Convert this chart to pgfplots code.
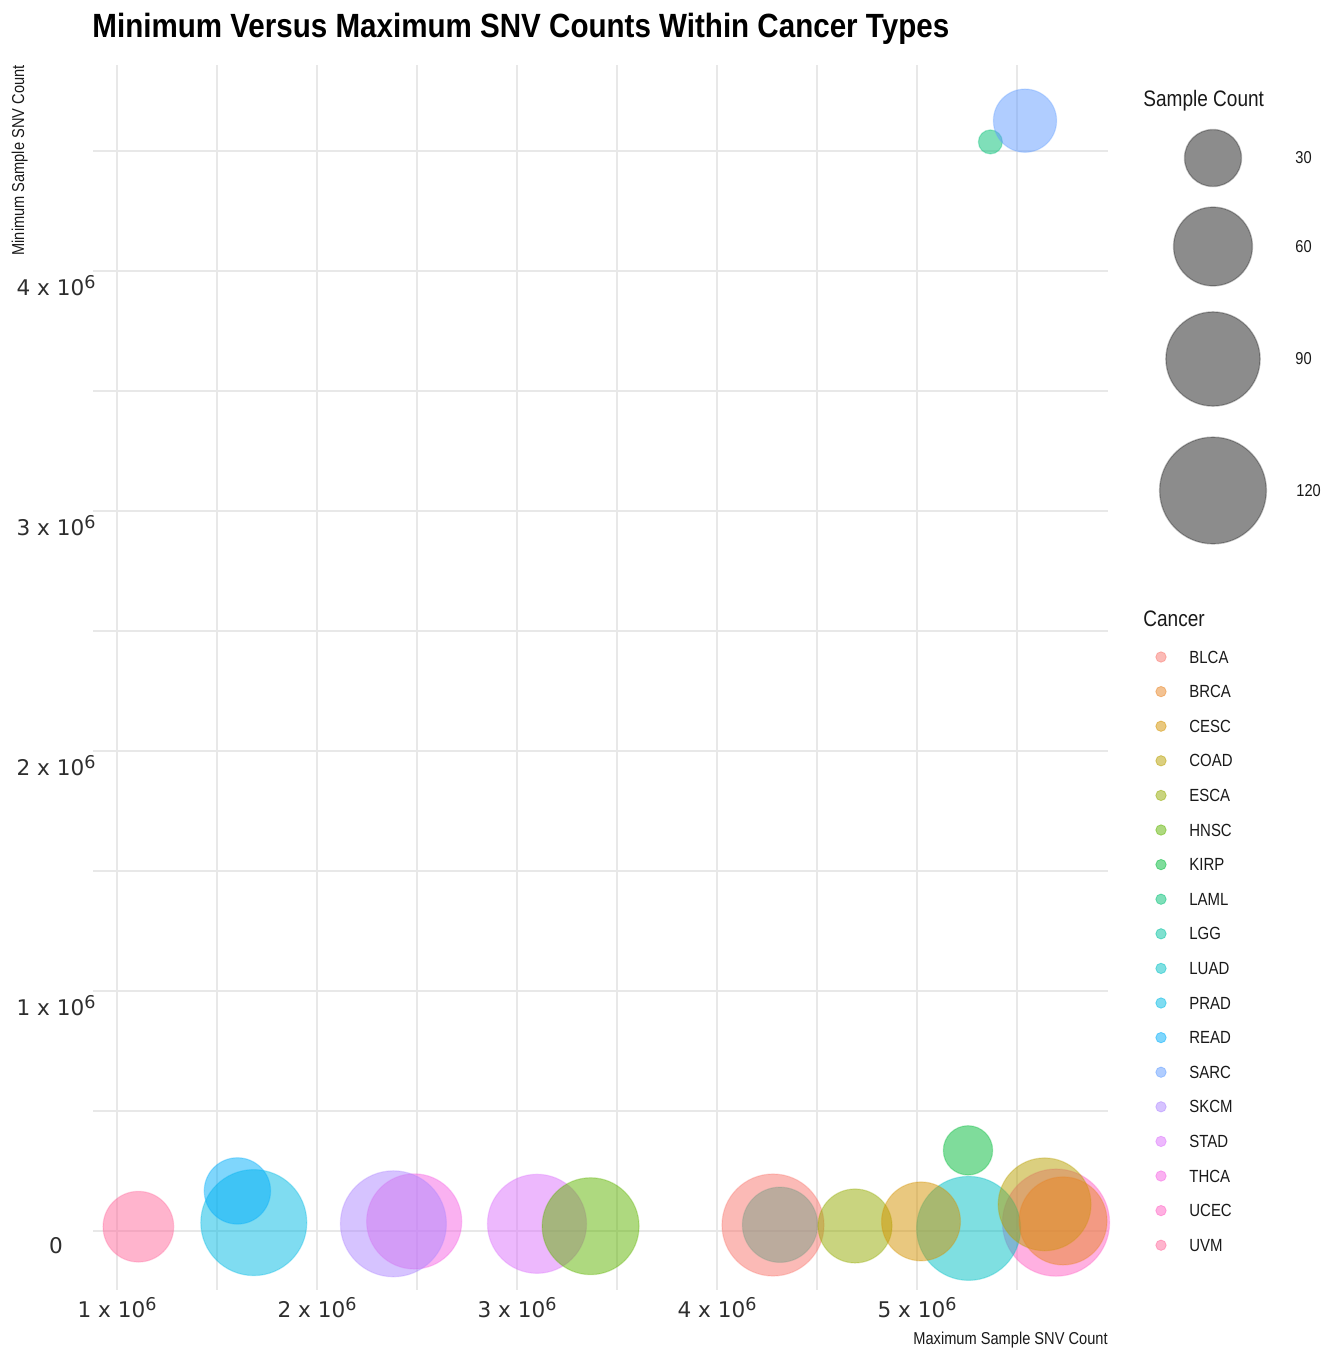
\documentclass[border=0pt]{standalone}
\usepackage{pgfplots}
\pgfplotsset{compat=1.18}
\usepackage{fontspec}
\setmainfont{Liberation Sans}
\newfontfamily\narrowf{Liberation Sans}[FakeStretch=0.85]
\newfontfamily\titlef{Liberation Sans}[FakeStretch=0.88]
\newfontfamily\dejavu{DejaVu Sans}

\definecolor{cBLCA}{HTML}{F8766D}
\definecolor{cBRCA}{HTML}{E88526}
\definecolor{cCESC}{HTML}{D39200}
\definecolor{cCOAD}{HTML}{B79F00}
\definecolor{cESCA}{HTML}{93AA00}
\definecolor{cHNSC}{HTML}{5EB300}
\definecolor{cKIRP}{HTML}{00BA38}
\definecolor{cLAML}{HTML}{00BF74}
\definecolor{cLGG}{HTML}{00C19F}
\definecolor{cLUAD}{HTML}{00BFC4}
\definecolor{cPRAD}{HTML}{00B9E3}
\definecolor{cREAD}{HTML}{00ADFA}
\definecolor{cSARC}{HTML}{619CFF}
\definecolor{cSKCM}{HTML}{AE87FF}
\definecolor{cSTAD}{HTML}{DB72FB}
\definecolor{cTHCA}{HTML}{F564E3}
\definecolor{cUCEC}{HTML}{FF61C3}
\definecolor{cUVM}{HTML}{FF699C}

\pgfplotsset{
  bub/.style={scatter, only marks, mark=*,
    scatter/use mapped color={draw=#1, fill=#1},
    mark options={fill opacity=0.5, draw opacity=0.3, line width=0.6pt},
    visualization depends on={6+2*sqrt(\thisrow{n}-13) \as \rad},
    scatter/@pre marker code/.append style={/tikz/mark size=\rad}},
  bubgray/.style={scatter, only marks, mark=*,
    scatter/use mapped color={draw=black, fill=black},
    mark options={fill opacity=0.45, draw opacity=0.25, line width=0.7pt},
    visualization depends on={6+2*sqrt(\thisrow{n}-13) \as \rad},
    scatter/@pre marker code/.append style={/tikz/mark size=\rad}},
}

\newcommand{\sx}[1]{\raisebox{0.6ex}{\fontsize{8.8}{9}\selectfont #1}}
\newcommand{\lgfont}{\fontsize{8.8}{10}\narrowf}
\newcommand{\lgitem}[3]{%
  \addplot[only marks, mark=*, mark size=2.6pt, mark options={fill=#3, draw=#3, fill opacity=0.5, draw opacity=0.5}] coordinates {(1161,#2)};
  \node[anchor=west, inner sep=0pt, font=\lgfont, text=black!90] at (axis cs:1189,#2) {#1};
}

\begin{document}
\begin{tikzpicture}
\path[use as bounding box] (0pt,0pt) rectangle (669pt,675.5pt);

\begin{axis}[
  at={(46.5pt,30.5pt)}, anchor=south west,
  scale only axis, width=507.5pt, height=612.5pt,
  xmin=880000, xmax=5955000, ymin=-245800, ymax=4858000,
  axis line style={draw=none},
  major tick length=0pt, minor tick length=0pt,
  xtick={1000000,2000000,3000000,4000000,5000000},
  minor xtick={1500000,2500000,3500000,4500000,5500000},
  ytick={0,1000000,2000000,3000000,4000000},
  minor ytick={500000,1500000,2500000,3500000,4500000},
  xticklabels={1 x 10\sx{6},2 x 10\sx{6},3 x 10\sx{6},4 x 10\sx{6},5 x 10\sx{6}},
  yticklabels={0,1 x 10\sx{6},2 x 10\sx{6},3 x 10\sx{6},4 x 10\sx{6}},
  scaled ticks=false,
  grid=both,
  major grid style={black!9, line width=0.7pt},
  minor grid style={black!9, line width=0.6pt},
  ticklabel style={font=\fontsize{10.8}{12}\dejavu, text=black!82},
  xticklabel style={anchor=center, yshift=-9pt},
  yticklabel style={anchor=center, xshift=-18.5pt, yshift=-7.5pt},
  point meta min=0, point meta max=200,
  clip=false,
]
\addplot[bub=cTHCA] table[row sep=\\]{x y n\\ 2486000 40000 92\\};
\addplot[bub=cSKCM] table[row sep=\\]{x y n\\ 2382000 30000 118\\};
\addplot[bub=cUVM]  table[row sep=\\]{x y n\\ 1107000 18000 47\\};
\addplot[bub=cPRAD] table[row sep=\\]{x y n\\ 1684000 35000 118\\};
\addplot[bub=cREAD] table[row sep=\\]{x y n\\ 1602000 167000 41\\};
\addplot[bub=cSTAD] table[row sep=\\]{x y n\\ 3100000 30000 101\\};
\addplot[bub=cHNSC] table[row sep=\\]{x y n\\ 3368000 20000 96\\};
\addplot[bub=cLGG]  table[row sep=\\]{x y n\\ 4315000 26000 54\\};
\addplot[bub=cBLCA] table[row sep=\\]{x y n\\ 4280000 25000 108\\};
\addplot[bub=cESCA] table[row sep=\\]{x y n\\ 4690000 21000 52\\};
\addplot[bub=cUCEC] table[row sep=\\]{x y n\\ 5695000 35000 121\\};
\addplot[bub=cLUAD] table[row sep=\\]{x y n\\ 5258000 11000 113\\};
\addplot[bub=cCESC] table[row sep=\\]{x y n\\ 5020000 40000 60\\};
\addplot[bub=cCOAD] table[row sep=\\]{x y n\\ 5638000 111000 87\\};
\addplot[bub=cBRCA] table[row sep=\\]{x y n\\ 5730000 42000 77\\};
\addplot[bub=cKIRP] table[row sep=\\]{x y n\\ 5255000 336000 23\\};
\addplot[bub=cLAML] table[row sep=\\]{x y n\\ 5367000 4537500 13\\};
\addplot[bub=cSARC] table[row sep=\\]{x y n\\ 5540000 4626000 37\\};
\end{axis}

% overlay axis in picture pixel coordinates for titles and legends
\begin{axis}[
  at={(0pt,0pt)}, anchor=south west,
  scale only axis, width=669pt, height=675.5pt,
  xmin=0, xmax=1338, ymin=0, ymax=1351, y dir=reverse,
  hide axis, clip=false,
  point meta min=0, point meta max=200,
]
\node[anchor=base west, inner sep=0pt, font=\fontsize{16.8}{18}\titlef\bfseries] at (axis cs:92,37) {Minimum Versus Maximum SNV Counts Within Cancer Types};
\node[anchor=base east, inner sep=0pt, rotate=90, font=\fontsize{8.6}{10}\narrowf, text=black!90] at (axis cs:24,65) {Minimum Sample SNV Count};
\node[anchor=base east, inner sep=0pt, font=\fontsize{8.6}{10}\narrowf, text=black!90] at (axis cs:1108,1344) {Maximum Sample SNV Count};

\node[anchor=base west, inner sep=0pt, font=\fontsize{11.2}{13}\narrowf, text=black!90] at (axis cs:1143,106) {Sample Count};
\addplot[bubgray] table[row sep=\\]{x y n\\ 1213 158 30\\ 1213 246.5 60\\ 1213 359 90\\ 1213 490.5 120\\};
\node[anchor=west, inner sep=0pt, font=\fontsize{8.6}{10}\narrowf, text=black!90] at (axis cs:1295,158) {30};
\node[anchor=west, inner sep=0pt, font=\fontsize{8.6}{10}\narrowf, text=black!90] at (axis cs:1295,246.5) {60};
\node[anchor=west, inner sep=0pt, font=\fontsize{8.6}{10}\narrowf, text=black!90] at (axis cs:1295,359) {90};
\node[anchor=west, inner sep=0pt, font=\fontsize{8.6}{10}\narrowf, text=black!90] at (axis cs:1296,490.5) {120};

\node[anchor=base west, inner sep=0pt, font=\fontsize{11.2}{13}\narrowf, text=black!90] at (axis cs:1143,626) {Cancer};
\lgitem{BLCA}{657}{cBLCA}
\lgitem{BRCA}{691.6}{cBRCA}
\lgitem{CESC}{726.2}{cCESC}
\lgitem{COAD}{760.8}{cCOAD}
\lgitem{ESCA}{795.4}{cESCA}
\lgitem{HNSC}{830}{cHNSC}
\lgitem{KIRP}{864.6}{cKIRP}
\lgitem{LAML}{899.2}{cLAML}
\lgitem{LGG}{933.8}{cLGG}
\lgitem{LUAD}{968.4}{cLUAD}
\lgitem{PRAD}{1003}{cPRAD}
\lgitem{READ}{1037.6}{cREAD}
\lgitem{SARC}{1072.2}{cSARC}
\lgitem{SKCM}{1106.8}{cSKCM}
\lgitem{STAD}{1141.4}{cSTAD}
\lgitem{THCA}{1176}{cTHCA}
\lgitem{UCEC}{1210.6}{cUCEC}
\lgitem{UVM}{1245.2}{cUVM}
\end{axis}
\end{tikzpicture}
\end{document}
